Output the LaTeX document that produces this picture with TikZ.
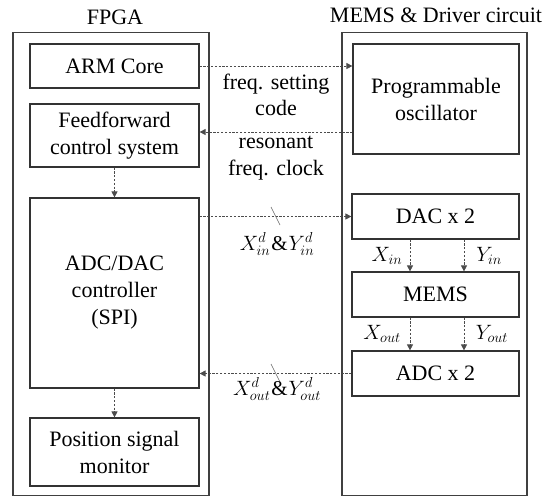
\documentclass[tikz,border=0pt]{standalone}
\usepackage{fontspec}
\setmainfont{Liberation Serif}
\newfontfamily\tnr{Liberation Serif}
\usetikzlibrary{arrows.meta,calc}
\begin{document}
\begin{tikzpicture}[x=1pt,y=-1pt,
  outer/.style={draw=black!75,line width=1.4pt,rectangle,inner sep=0pt},
  blk/.style={draw=black!80,line width=1.2pt,rectangle,inner sep=0pt,align=center,
    font=\tnr\fontsize{22}{27}\selectfont},
  sig/.style={draw=black!70,line width=0.8pt,dash pattern=on 2.2pt off 1.6pt,
    -{Triangle[length=6pt,width=6pt]}},
  lbl/.style={inner sep=0pt,align=center,font=\tnr\fontsize{22}{26.5}\selectfont},
  mlbl/.style={inner sep=0pt,font=\tnr\fontsize{21}{25}\selectfont},
  tick/.style={draw=black!60,line width=0.6pt}]
\useasboundingbox (0,0) rectangle (554,496);
% titles
\node[lbl] (t1) at (115,17) {FPGA};
\node[lbl] (t2) at (436,15) {MEMS \& Driver circuit};
% outer boxes
\node[outer,minimum width=196pt,minimum height=463pt] (fpga) at (111,264) {};
\node[outer,minimum width=185pt,minimum height=463pt] (memsc) at (434.5,264) {};
% FPGA blocks
\node[blk,minimum width=169pt,minimum height=44pt] (arm) at (114.5,66) {ARM Core};
\node[blk,minimum width=169pt,minimum height=63pt] (ff) at (114.5,135.5) {Feedforward\\control system};
\node[blk,minimum width=169pt,minimum height=190pt] (ctrl) at (114.5,293) {ADC/DAC\\controller\\(SPI)};
\node[blk,minimum width=169pt,minimum height=68pt] (pos) at (114.5,452) {Position signal\\monitor};
% MEMS side blocks
\node[blk,minimum width=166pt,minimum height=110pt] (osc) at (436,99) {Programmable\\oscillator};
\node[blk,minimum width=167pt,minimum height=45pt] (dac) at (435.5,216.5) {DAC x 2};
\node[blk,minimum width=167pt,minimum height=45pt] (mems) at (435.5,294.5) {MEMS};
\node[blk,minimum width=167pt,minimum height=45pt] (adc) at (435.5,373.5) {ADC x 2};
% connectors
\draw[sig] (arm.east) -- (arm.east -| osc.west);
\coordinate (rc) at ([yshift=3.5pt]ff.east);
\draw[sig] (rc -| osc.west) -- (rc);
\draw[sig] (ff.south) -- (ctrl.north);
\coordinate (dd) at (ctrl.east |- dac.west);
\draw[sig] (dd) -- (dac.west);
\draw[sig] (adc.west) -- (adc.west -| ctrl.east);
\draw[sig] (ctrl.south) -- (pos.north);
\coordinate (xa) at (410,0);
\coordinate (ya) at (464,0);
\draw[sig] (xa |- dac.south) -- (xa |- mems.north);
\draw[sig] (ya |- dac.south) -- (ya |- mems.north);
\draw[sig] (xa |- mems.south) -- (xa |- adc.north);
\draw[sig] (ya |- mems.south) -- (ya |- adc.north);
% bus ticks
\coordinate (k1) at (275.5,216);
\coordinate (k2) at (275.5,373);
\draw[tick] ($(k1)+(-4.5,-9)$) -- ($(k1)+(4.5,9)$);
\draw[tick] ($(k2)+(-4.5,-9)$) -- ($(k2)+(4.5,9)$);
% labels
\node[lbl] (l1) at (276,95) {freq. setting\\code};
\node[lbl] (l2) at (276,158) {resonant\\freq. clock};
\node[mlbl] (l3) at (277,244) {$X_{in}^{d}$\kern1pt\&\kern1pt$Y_{in}^{d}$};
\node[mlbl] (l4) at (277,389) {$X_{out}^{d}$\kern1pt\&\kern1pt$Y_{out}^{d}$};
\node[mlbl] (l5) at (387,256) {$X_{in}$};
\node[mlbl] (l6) at (489,256) {$Y_{in}$};
\node[mlbl] (l7) at (382,334) {$X_{out}$};
\node[mlbl] (l8) at (492,334) {$Y_{out}$};
\end{tikzpicture}
\end{document}
